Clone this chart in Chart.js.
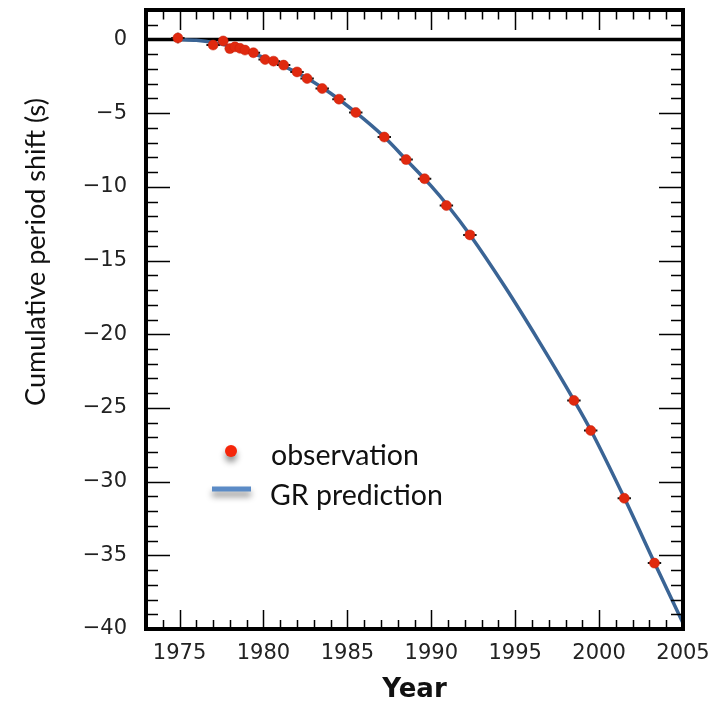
<!DOCTYPE html>
<html lang="en">
<head>
<meta charset="UTF-8">
<title>Cumulative period shift</title>
<script src="https://cdn.jsdelivr.net/npm/chart.js"></script>
<style>
  body { margin: 0; background: #fff; }
  #wrap { width: 722px; height: 706px; }
</style>
</head>
<body>
<div id="wrap"><canvas id="myChart" width="722" height="706"></canvas></div>
<script>
var obsYear  = [1974.9, 1977.0, 1977.6, 1978.0, 1978.3, 1978.6, 1978.9, 1979.4, 1980.1, 1980.6, 1981.2, 1982.0, 1982.6,
                1983.5, 1984.5, 1985.5, 1987.2, 1988.5, 1989.6, 1990.9, 1992.3, 1998.5, 1999.5, 2001.5, 2003.3];
var obsShift = [0.1, -0.38, -0.1, -0.62, -0.5, -0.6, -0.72, -0.9, -1.36, -1.47, -1.74, -2.2, -2.65,
                -3.33, -4.05, -4.95, -6.62, -8.15, -9.45, -11.27, -13.26, -24.49, -26.53, -31.13, -35.53];
var obsYearErr  = [0.4, 0.4, 0.3, 0.3, 0.3, 0.3, 0.3, 0.4, 0.4, 0.4, 0.4, 0.4, 0.4,
                   0.4, 0.4, 0.4, 0.4, 0.4, 0.4, 0.4, 0.4, 0.4, 0.4, 0.4, 0.4];
var obsShiftErr = [0.35, 0.1, 0.1, 0.1, 0.1, 0.1, 0.1, 0.1, 0.1, 0.1, 0.1, 0.1, 0.1,
                   0.1, 0.1, 0.1, 0.1, 0.1, 0.1, 0.1, 0.1, 0.1, 0.1, 0.1, 0.1];

// GR prediction curve
var grYear  = [1974.9, 1976, 1977, 1978, 1979, 1980, 1981, 1982, 1983, 1984, 1985.5, 1987.2, 1988.5,
               1990, 1991, 1992.3, 1994.4, 1996.4, 1998.5, 1999.5, 2001.5, 2003.3, 2005];
var grShift = [0.0, -0.06, -0.2, -0.45, -0.8, -1.22, -1.7, -2.25, -2.9, -3.65, -4.95, -6.62, -8.15,
               -9.95, -11.3, -13.25, -16.8, -20.45, -24.47, -26.5, -31.1, -35.5, -39.6];

var xTicks = [1975, 1980, 1985, 1990, 1995, 2000, 2005];
var yTicks = [0, -5, -10, -15, -20, -25, -30, -35, -40];

var obsPoints = obsYear.map(function (x, i) { return { x: x, y: obsShift[i] }; });
var grPoints = grYear.map(function (x, i) { return { x: x, y: grShift[i] }; });

// error bars under the red dots
var errorBars = {
    id: 'errorBars',
    beforeDatasetDraw: function (chart, args) {
        if (args.index !== 0) return;
        var ctx = chart.ctx, xs = chart.scales.x, ys = chart.scales.y;
        ctx.save();
        ctx.strokeStyle = '#111';
        ctx.lineWidth = 2;
        for (var i = 0; i < obsYear.length; i++) {
            var px = xs.getPixelForValue(obsYear[i]);
            var py = ys.getPixelForValue(obsShift[i]);
            ctx.beginPath();
            ctx.moveTo(xs.getPixelForValue(obsYear[i] - obsYearErr[i]), py);
            ctx.lineTo(xs.getPixelForValue(obsYear[i] + obsYearErr[i]), py);
            ctx.moveTo(px, ys.getPixelForValue(obsShift[i] + obsShiftErr[i]));
            ctx.lineTo(px, ys.getPixelForValue(obsShift[i] - obsShiftErr[i]));
            ctx.stroke();
        }
        ctx.restore();
    }
};

// zero line, inward ticks, frame, legend and y title
var frame = {
    id: 'frame',
    beforeDatasetsDraw: function (chart) {
        var ctx = chart.ctx, a = chart.chartArea, ys = chart.scales.y;
        var y0 = ys.getPixelForValue(0);
        ctx.save();
        ctx.strokeStyle = '#000';
        ctx.lineWidth = 3.5;
        ctx.beginPath();
        ctx.moveTo(a.left, y0);
        ctx.lineTo(a.right, y0);
        ctx.stroke();
        ctx.restore();
    },
    afterDatasetsDraw: function (chart) {
        var ctx = chart.ctx, a = chart.chartArea, xs = chart.scales.x, ys = chart.scales.y;
        ctx.save();
        ctx.strokeStyle = '#000';
        ctx.lineWidth = 1.5;
        ctx.beginPath();
        for (var yr = Math.ceil(xs.min); yr <= xs.max; yr++) {
            var px = Math.round(xs.getPixelForValue(yr)) + 0.5;
            var len = (yr % 5 === 0) ? 19 : 9;
            ctx.moveTo(px, a.bottom); ctx.lineTo(px, a.bottom - len);
            ctx.moveTo(px, a.top); ctx.lineTo(px, a.top + len * 1.05);
        }
        for (var v = Math.ceil(ys.min); v <= ys.max; v++) {
            var py = Math.round(ys.getPixelForValue(v)) + 0.5;
            var l2 = (v % 5 === 0) ? 24 : 12;
            ctx.moveTo(a.left, py); ctx.lineTo(a.left + l2, py);
            ctx.moveTo(a.right, py); ctx.lineTo(a.right - l2, py);
        }
        ctx.stroke();
        ctx.lineWidth = 4;
        ctx.strokeRect(a.left, a.top, a.right - a.left, a.bottom - a.top);

        // legend
        ctx.font = '28.5px Lato';
        ctx.fillStyle = '#111';
        ctx.textBaseline = 'alphabetic';
        ctx.fillText('observation', 271, 465);
        ctx.fillText('GR prediction', 270, 505);
        ctx.shadowColor = 'rgba(0,0,0,0.45)';
        ctx.shadowBlur = 6;
        ctx.shadowOffsetY = 5;
        ctx.fillStyle = '#f5260a';
        ctx.beginPath();
        ctx.arc(231, 451, 6, 0, Math.PI * 2);
        ctx.fill();
        ctx.strokeStyle = '#5b8bc6';
        ctx.lineWidth = 5;
        ctx.beginPath();
        ctx.moveTo(212, 489); ctx.lineTo(251, 489);
        ctx.stroke();
        ctx.restore();

        // y axis title
        ctx.save();
        ctx.translate(36, 252);
        ctx.rotate(-Math.PI / 2);
        ctx.font = '27px Lato';
        ctx.fillStyle = '#111';
        ctx.textAlign = 'center';
        ctx.textBaseline = 'middle';
        ctx.fillText('Cumulative period shift (s)', 0, 0);
        ctx.restore();
    }
};

var grafico = document.getElementById('myChart').getContext('2d');
var myChart = new Chart(grafico, {
    type: 'scatter',
    data: {
        datasets: [{
            label: 'observation',
            data: obsPoints,
            backgroundColor: '#e0290f',
            borderColor: '#c8230c',
            borderWidth: 0.5,
            pointRadius: 5,
            order: 0
        }, {
            label: 'GR prediction',
            type: 'line',
            data: grPoints,
            borderColor: '#3a6495',
            borderWidth: 3.5,
            pointRadius: 0,
            cubicInterpolationMode: 'monotone',
            fill: false,
            order: 1
        }]
    },
    options: {
        responsive: false,
        animation: false,
        layout: { padding: { top: 10, right: 39, left: 0, bottom: 0 } },
        plugins: { legend: { display: false }, tooltip: { enabled: false } },
        scales: {
            x: {
                type: 'linear',
                min: 1973,
                max: 2005,
                grid: { display: false, drawTicks: false },
                border: { display: false },
                afterBuildTicks: function (scale) {
                    scale.ticks = xTicks.map(function (v) { return { value: v }; });
                },
                afterFit: function (scale) {
                    scale.height = 77;
                    scale.paddingLeft = 0;
                    scale.paddingRight = 0;
                },
                ticks: {
                    padding: 12,
                    maxRotation: 0,
                    autoSkip: false,
                    color: '#222',
                    font: { family: 'DejaVu Sans', size: 21 },
                    callback: function (v) { return String(v); }
                },
                title: {
                    display: true,
                    text: 'Year',
                    color: '#111',
                    padding: { top: 0, bottom: 0 },
                    font: { family: 'DejaVu Sans', size: 26, weight: 'bold' }
                }
            },
            y: {
                min: -40,
                max: 2,
                grid: { display: false, drawTicks: false },
                border: { display: false },
                afterBuildTicks: function (scale) {
                    scale.ticks = yTicks.map(function (v) { return { value: v }; });
                },
                afterFit: function (scale) {
                    scale.width = 146;
                    scale.paddingTop = 0;
                    scale.paddingBottom = 0;
                },
                ticks: {
                    padding: 19,
                    autoSkip: false,
                    color: '#222',
                    font: { family: 'DejaVu Sans', size: 21 },
                    callback: function (v) { return v < 0 ? '\u2212' + Math.abs(v) : String(v); }
                }
            }
        }
    },
    plugins: [errorBars, frame]
});
</script>
</body>
</html>
